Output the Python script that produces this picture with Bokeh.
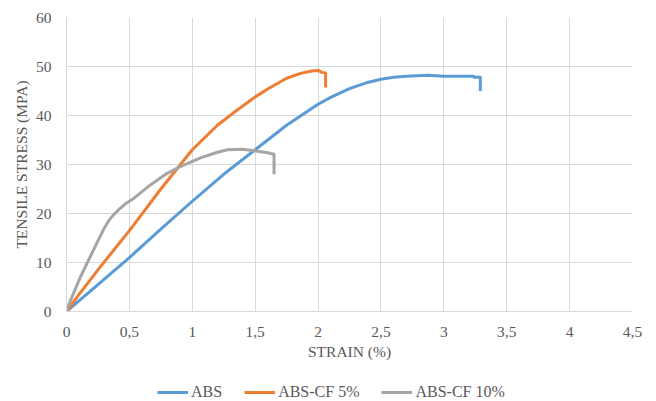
from bokeh.plotting import figure
from bokeh.models import Legend, LegendItem, FixedTicker, Range1d
from bokeh.layouts import column
from bokeh.embed import file_html
from bokeh.resources import INLINE

# ABS
abs_strain = [0, 0.25, 0.5, 0.75, 1.0, 1.25, 1.5, 1.75, 2.0, 2.1, 2.25, 2.4, 2.5, 2.6, 2.7, 2.87, 3.0, 3.24, 3.24, 3.29, 3.29]
abs_stress = [0, 5.5, 11.0, 16.8, 22.5, 28.0, 33.0, 38.0, 42.3, 43.7, 45.5, 46.8, 47.4, 47.8, 48.0, 48.2, 48.0, 48.0, 47.8, 47.8, 45.0]

# ABS-CF 5%
cf5_strain = [0, 0.1, 0.25, 0.5, 0.75, 1.0, 1.2, 1.33, 1.5, 1.6, 1.75, 1.86, 1.95, 2.0, 2.03, 2.06, 2.06]
cf5_stress = [0, 3.5, 8.5, 16.5, 25.0, 33.0, 38.0, 40.6, 43.8, 45.4, 47.6, 48.6, 49.1, 49.2, 48.8, 48.7, 45.7]

# ABS-CF 10%
cf10_strain = [0, 0.02, 0.11, 0.24, 0.3, 0.34, 0.38, 0.42, 0.47, 0.53, 0.65, 0.8, 0.9, 1.07, 1.2, 1.28, 1.4, 1.46, 1.6, 1.65, 1.65]
cf10_stress = [0, 1.5, 7.0, 13.9, 17.0, 18.7, 19.9, 20.9, 22.0, 23.0, 25.5, 28.2, 29.5, 31.4, 32.5, 33.0, 33.1, 32.9, 32.4, 32.1, 28.0]

x_ticks = [0, 0.5, 1, 1.5, 2, 2.5, 3, 3.5, 4, 4.5]
x_tick_labels = ["0", "0,5", "1", "1,5", "2", "2,5", "3", "3,5", "4", "4,5"]
y_ticks = [0, 10, 20, 30, 40, 50, 60]

series_names = ["ABS", "ABS-CF 5%", "ABS-CF 10%"]
colors = ["#5B9BD5", "#ED7D31", "#A5A5A5"]

FONT = "Liberation Serif"
TXT = "#595959"
GRID = "#d9d9d9"

all_x = [abs_strain, cf5_strain, cf10_strain]
all_y = [abs_stress, cf5_stress, cf10_stress]

p = figure(frame_width=566, frame_height=294, output_backend="svg", toolbar_location=None,
           x_range=Range1d(0, 4.5), y_range=Range1d(0, 60))
p.min_border_left = 66
p.min_border_top = 17
p.min_border_right = 24
p.min_border_bottom = 67
p.outline_line_color = None
p.background_fill_color = "white"
p.border_fill_color = "white"

for xs, ys, c in zip(all_x, all_y, colors):
    p.line(xs, ys, line_color=c, line_width=3, line_join="round")

p.xaxis.ticker = FixedTicker(ticks=x_ticks)
p.xaxis.major_label_overrides = {t: l for t, l in zip(x_ticks, x_tick_labels)}
p.yaxis.ticker = FixedTicker(ticks=y_ticks)
p.xaxis.axis_label = "STRAIN (%)"
p.yaxis.axis_label = "TENSILE STRESS (MPA)"

for ax in [p.xaxis[0], p.yaxis[0]]:
    ax.axis_line_color = GRID
    ax.major_tick_line_color = None
    ax.minor_tick_line_color = None
    ax.major_label_text_font = FONT
    ax.major_label_text_font_size = "15.5px"
    ax.major_label_text_color = TXT
    ax.axis_label_text_font = FONT
    ax.axis_label_text_font_size = "15.5px"
    ax.axis_label_text_color = TXT
    ax.axis_label_text_font_style = "normal"
    ax.major_label_standoff = 9
    ax.axis_label_standoff = 3

p.xgrid.grid_line_color = GRID
p.ygrid.grid_line_color = GRID
p.xgrid.ticker = FixedTicker(ticks=x_ticks)
p.ygrid.ticker = FixedTicker(ticks=y_ticks)

# legend strip (separate figure below the chart); its view range shows none of the data
lg = figure(width=656, height=23, output_backend="svg", toolbar_location=None,
            x_axis_location=None, y_axis_location=None,
            x_range=Range1d(100, 101), y_range=Range1d(100, 101))
lg.min_border_left = 0
lg.min_border_right = 0
lg.min_border_top = 0
lg.min_border_bottom = 0
lg.outline_line_color = None
lg.xgrid.visible = False
lg.ygrid.visible = False
swatches = [lg.line(xs, ys, line_color=c, line_width=3) for xs, ys, c in zip(all_x, all_y, colors)]

legend = Legend(items=[LegendItem(label=n, renderers=[r]) for n, r in zip(series_names, swatches)],
                orientation="horizontal", location=(91, 0))
legend.label_text_font = FONT
legend.label_text_font_size = "16px"
legend.label_text_color = TXT
legend.glyph_width = 31
legend.glyph_height = 16
legend.label_height = 16
legend.label_standoff = 3
legend.spacing = 22
legend.border_line_color = None
legend.background_fill_alpha = 0
legend.padding = 0
legend.margin = 0
lg.add_layout(legend, "center")

layout = column(p, lg, spacing=0)
open("out.html", "w").write(file_html(layout, INLINE))
